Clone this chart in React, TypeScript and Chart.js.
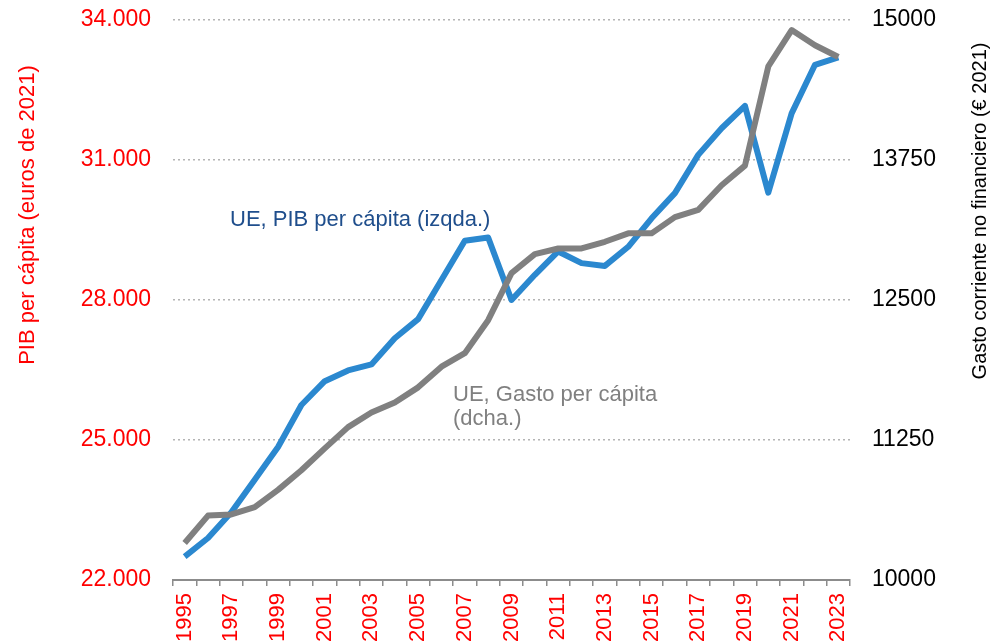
import React, { useEffect, useRef } from 'react';
import { Chart, registerables } from 'chart.js';

Chart.register(...registerables);

const years = [
  '1995', '1996', '1997', '1998', '1999', '2000', '2001', '2002', '2003', '2004',
  '2005', '2006', '2007', '2008', '2009', '2010', '2011', '2012', '2013', '2014',
  '2015', '2016', '2017', '2018', '2019', '2020', '2021', '2022', '2023',
];

// UE, PIB per cápita (izqda.) — euros de 2021
const pibPerCapita = [
  22500, 22900, 23450, 24150, 24850, 25750, 26260, 26490, 26620, 27180,
  27590, 28430, 29270, 29340, 28000, 28540, 29040, 28790, 28730, 29140,
  29750, 30290, 31110, 31680, 32160, 30300, 32000, 33040, 33200,
];

// UE, Gasto per cápita (dcha.) — € 2021
const gastoPerCapita = [
  10330, 10575, 10585, 10650, 10805, 10980, 11175, 11365, 11495, 11585,
  11720, 11905, 12025, 12320, 12740, 12910, 12960, 12960, 13020, 13095,
  13095, 13240, 13305, 13525, 13700, 14585, 14910, 14775, 14670,
];

const leftAxis = { min: 22000, max: 34000, step: 3000 };
const rightAxis = { min: 10000, max: 15000, step: 1250 };

const leftTitle = 'PIB per cápita (euros de 2021)';
const rightTitle = 'Gasto corriente no financiero (€ 2021)';
const pibLabel = 'UE, PIB per cápita (izqda.)';
const gastoLabel = ['UE, Gasto per cápita', '(dcha.)'];

const FONT = "'Liberation Sans', Arial, Helvetica, sans-serif";
const BLUE = '#2B88CF';
const GRAY = '#808080';

function fmtEs(v: number): string {
  return String(Math.round(v)).replace(/\B(?=(\d{3})+(?!\d))/g, '.');
}

export default function App() {
  const ref = useRef<HTMLCanvasElement | null>(null);

  useEffect(() => {
    if (!ref.current) return;

    const textPlugin = {
      id: 'customTexts',
      afterDraw(chart: any) {
        const ctx = chart.ctx as CanvasRenderingContext2D;
        // Left axis title
        ctx.save();
        ctx.font = `22px ${FONT}`;
        ctx.fillStyle = '#FF0000';
        ctx.translate(28, 215);
        ctx.rotate(-Math.PI / 2);
        ctx.textAlign = 'center';
        ctx.textBaseline = 'middle';
        ctx.fillText(leftTitle, 0, 0);
        ctx.restore();

        // Right axis title
        ctx.save();
        ctx.font = `20px ${FONT}`;
        ctx.fillStyle = '#000000';
        ctx.translate(980, 211);
        ctx.rotate(-Math.PI / 2);
        ctx.textAlign = 'center';
        ctx.textBaseline = 'middle';
        ctx.fillText(rightTitle, 0, 0);
        ctx.restore();

        // Series annotations
        ctx.save();
        ctx.font = `22px ${FONT}`;
        ctx.textAlign = 'left';
        ctx.textBaseline = 'alphabetic';
        ctx.fillStyle = '#1F4E8C';
        ctx.fillText(pibLabel, 230, 226);
        ctx.fillStyle = GRAY;
        ctx.fillText(gastoLabel[0], 453, 401);
        ctx.fillText(gastoLabel[1], 453, 425);
        ctx.restore();
      },
    };

    const noVerticalPad = (scale: any, width: number) => {
      scale.width = width;
      scale.paddingTop = 0;
      scale.paddingBottom = 0;
    };

    const chart = new Chart(ref.current, {
      type: 'line',
      data: {
        labels: years,
        datasets: [
          {
            label: 'UE, Gasto per cápita (dcha.)',
            data: gastoPerCapita,
            yAxisID: 'y1',
            borderColor: GRAY,
            backgroundColor: GRAY,
            borderWidth: 6,
            pointRadius: 0,
            tension: 0,
            borderJoinStyle: 'round',
            order: 0,
          },
          {
            label: 'UE, PIB per cápita (izqda.)',
            data: pibPerCapita,
            yAxisID: 'y',
            borderColor: BLUE,
            backgroundColor: BLUE,
            borderWidth: 6,
            pointRadius: 0,
            tension: 0,
            borderJoinStyle: 'round',
            order: 1,
          },
        ],
      },
      options: {
        responsive: false,
        animation: false,
        maintainAspectRatio: false,
        layout: { padding: { top: 20, left: 0, right: 0, bottom: 0 } },
        plugins: {
          legend: { display: false },
          tooltip: { enabled: false },
        },
        scales: {
          x: {
            type: 'category',
            offset: true,
            grid: {
              display: true,
              drawOnChartArea: false,
              drawTicks: true,
              tickLength: 6,
              offset: true,
              color: '#8C8C8C',
              lineWidth: 1.5,
            },
            border: { display: true, color: '#8C8C8C', width: 2 },
            ticks: {
              autoSkip: false,
              maxRotation: 90,
              minRotation: 90,
              padding: 7,
              color: '#FF0000',
              font: { family: FONT, size: 22 },
              callback: (_v: any, i: number) => (i % 2 === 0 ? years[i] : ''),
            },
            afterFit: (scale: any) => {
              scale.height = 64;
              scale.paddingLeft = 0;
              scale.paddingRight = 0;
            },
          },
          y: {
            type: 'linear',
            position: 'left',
            min: leftAxis.min,
            max: leftAxis.max,
            grid: {
              drawTicks: false,
              lineWidth: 1.5,
              color: (c: any) =>
                c.tick && c.tick.value === leftAxis.min ? 'rgba(0,0,0,0)' : '#B4B4B4',
            },
            border: { display: false, dash: [2, 3] },
            ticks: {
              stepSize: leftAxis.step,
              padding: 22,
              color: '#FF0000',
              font: { family: FONT, size: 23 },
              callback: (v: any) => fmtEs(Number(v)),
            },
            afterFit: (scale: any) => noVerticalPad(scale, 173),
          },
          y1: {
            type: 'linear',
            position: 'right',
            min: rightAxis.min,
            max: rightAxis.max,
            grid: { drawOnChartArea: false, drawTicks: false },
            border: { display: false },
            ticks: {
              stepSize: rightAxis.step,
              padding: 22,
              color: '#000000',
              font: { family: FONT, size: 23 },
              callback: (v: any) => String(v),
            },
            afterFit: (scale: any) => noVerticalPad(scale, 144),
          },
        },
      },
      plugins: [textPlugin],
    } as any);

    return () => chart.destroy();
  }, []);

  return (
    <div
      style={{
        position: 'fixed',
        left: 0,
        top: 0,
        width: 994,
        height: 644,
        background: '#ffffff',
      }}
    >
      <canvas ref={ref} width={994} height={644} style={{ display: 'block' }} />
    </div>
  );
}
